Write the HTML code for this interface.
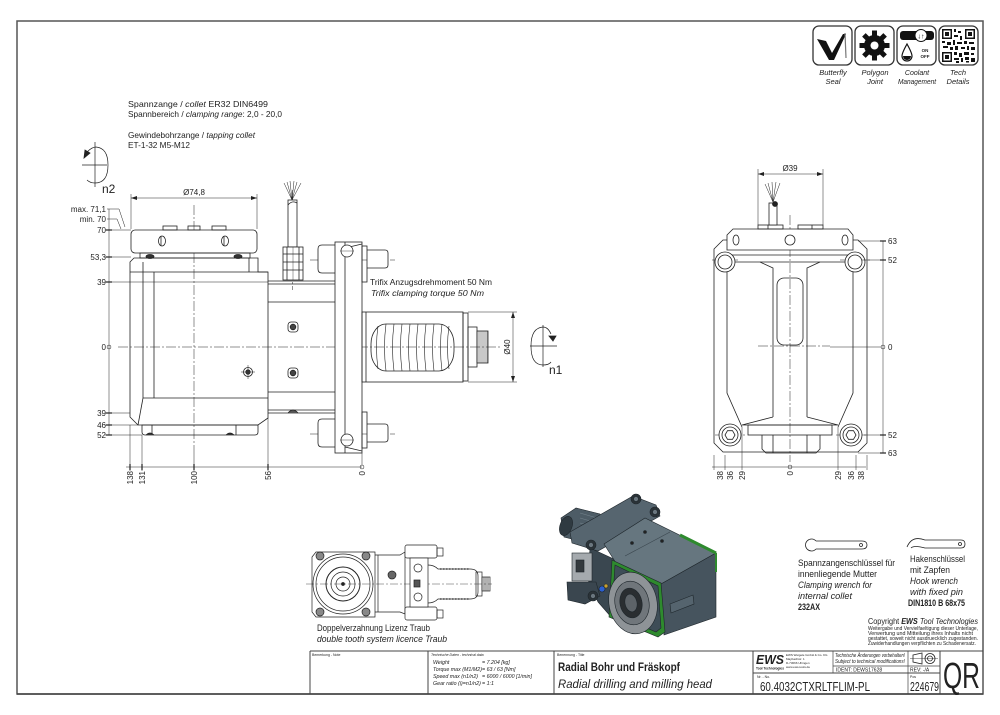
<!DOCTYPE html>
<html><head><meta charset="utf-8">
<style>
html,body{margin:0;padding:0;background:#fff;}
svg{display:block;}
text{font-family:"Liberation Sans","DejaVu Sans",sans-serif;fill:#222;}
.i{font-style:italic}
.b{font-weight:bold}
</style></head><body>
<svg width="1000" height="715" viewBox="0 0 1000 715" xmlns="http://www.w3.org/2000/svg">
<defs>
<marker id="a" markerWidth="6" markerHeight="4" refX="6" refY="2" orient="auto-start-reverse" markerUnits="userSpaceOnUse"><path d="M0,0 L6,2 L0,4 z" fill="#222"/></marker>
</defs>

<!-- frame -->
<rect x="17" y="21" width="966" height="673" fill="none" stroke="#555" stroke-width="1.5"/>

<!-- ============ FRONT VIEW ============ -->
<g fill="none" stroke="#222" stroke-width="0.8">
<g stroke-width="0.5" stroke-dasharray="10 2 2 2">
<line x1="118" y1="347" x2="500" y2="347"/>
<line x1="194" y1="205" x2="194" y2="450"/>
<line x1="292.5" y1="190" x2="292.5" y2="290"/>
<line x1="310" y1="260" x2="395" y2="260"/>
<line x1="310" y1="434" x2="395" y2="434"/>
</g>
<rect x="131" y="230" width="126" height="23" rx="4" fill="#fff"/>
<rect x="163" y="226" width="14" height="4"/>
<rect x="188" y="226" width="12" height="4"/>
<rect x="212" y="226" width="14" height="4"/>
<ellipse cx="162" cy="241" rx="3.5" ry="5"/>
<ellipse cx="225" cy="241" rx="3.5" ry="5"/>
<line x1="161" y1="236" x2="161" y2="246"/>
<line x1="224" y1="236" x2="224" y2="246"/>
<rect x="140" y="253" width="110" height="5"/>
<ellipse cx="150" cy="256.5" rx="4" ry="2" fill="#333"/>
<ellipse cx="238" cy="256.5" rx="4" ry="2" fill="#333"/>
<path d="M134,258 L258,258 L258,272 L268,272 L268,418 L258,425 L138,425 L130,417 L130,262 Z"/>
<line x1="130" y1="272" x2="268" y2="272"/>
<line x1="143" y1="262" x2="143" y2="398"/>
<line x1="154" y1="272" x2="154" y2="398"/>
<line x1="143" y1="398" x2="268" y2="398"/>
<line x1="143" y1="398" x2="138" y2="425"/>
<line x1="249" y1="258" x2="249" y2="272"/>
<path d="M142,425 L258,425 L258,432 Q258,435 255,435 L145,435 Q142,435 142,432 Z"/>
<line x1="152" y1="425" x2="152" y2="435"/>
<line x1="236" y1="425" x2="236" y2="435"/>
<path d="M146,435 Q150,431 154,435" fill="#333"/>
<path d="M226,435 Q230,431 234,435" fill="#333"/>
<line x1="268" y1="281" x2="335" y2="281"/>
<line x1="268" y1="284" x2="335" y2="284"/>
<line x1="268" y1="302" x2="335" y2="302"/>
<line x1="268" y1="392" x2="335" y2="392"/>
<line x1="268" y1="410" x2="335" y2="410"/>
<line x1="268" y1="413" x2="335" y2="413"/>
<path d="M288,413 Q293,407 298,413" fill="#555"/>
<rect x="288" y="322" width="10" height="10" rx="3"/><circle cx="293" cy="327" r="2.8" fill="#444"/>
<rect x="288" y="368" width="10" height="10" rx="3"/><circle cx="293" cy="373" r="2.8" fill="#444"/>
<circle cx="248" cy="372" r="4.5"/><circle cx="248" cy="372" r="2.2" fill="#444"/>
<line x1="241" y1="372" x2="255" y2="372" stroke-width="0.5"/>
<line x1="248" y1="365" x2="248" y2="379" stroke-width="0.5"/>
<rect x="288" y="200" width="9" height="47" fill="#fff"/>
<path d="M288,205 Q292,200 297,203"/>
<g stroke-width="0.5">
<line x1="292" y1="200" x2="284" y2="183"/><line x1="292" y1="200" x2="287" y2="182"/>
<line x1="292" y1="200" x2="290" y2="181"/><line x1="292" y1="200" x2="294" y2="181"/>
<line x1="292" y1="200" x2="297" y2="182"/><line x1="292" y1="200" x2="301" y2="183"/>
</g>
<rect x="283" y="247" width="20" height="33" fill="#fff"/>
<line x1="283" y1="254" x2="303" y2="254"/><line x1="283" y1="262" x2="303" y2="262"/>
<line x1="283" y1="270" x2="303" y2="270"/>
<line x1="287" y1="247" x2="287" y2="280"/><line x1="299" y1="247" x2="299" y2="280"/>
<line x1="293" y1="247" x2="293" y2="280" stroke-width="0.4"/>
<path d="M335,245 H322 Q318,245 318,249 V269 Q318,273 322,273 H335" fill="#fff"/>
<path d="M367,250 H385 Q388,250 388,253 V265 Q388,268 385,268 H367" fill="#fff"/>
<path d="M335,419 H322 Q318,419 318,423 V443 Q318,447 322,447 H335" fill="#fff"/>
<path d="M367,424 H385 Q388,424 388,427 V439 Q388,442 385,442 H367" fill="#fff"/>
<rect x="335" y="242" width="27" height="211" fill="#fff"/>
<line x1="345" y1="242" x2="345" y2="453"/>
<line x1="345" y1="248" x2="362" y2="244"/>
<line x1="345" y1="447" x2="362" y2="451"/>
<rect x="362" y="246" width="5" height="36"/>
<rect x="362" y="412" width="5" height="36"/>
<circle cx="347" cy="251" r="6" fill="#fff"/>
<circle cx="347" cy="440" r="6" fill="#fff"/>
<line x1="340" y1="251" x2="354" y2="251" stroke-width="0.4"/>
<line x1="340" y1="440" x2="354" y2="440" stroke-width="0.4"/>
<rect x="362" y="312" width="101" height="70"/>
<line x1="366" y1="312" x2="366" y2="382"/>
<rect x="463" y="313" width="5" height="68"/>
<rect x="468" y="327" width="9" height="40"/>
<rect x="477" y="331" width="11" height="32"/>
<g stroke-width="0.5">
<line x1="479" y1="331" x2="479" y2="363"/><line x1="481" y1="331" x2="481" y2="363"/>
<line x1="483" y1="331" x2="483" y2="363"/><line x1="485" y1="331" x2="485" y2="363"/>
<line x1="487" y1="331" x2="487" y2="363"/>
</g>
<rect x="371" y="324" width="83" height="47" rx="15" ry="20"/>
<g stroke-width="0.6">
<path d="M378,326 Q375,347 378,369"/>
<path d="M386,324 Q383,347 386,371"/><path d="M394,324 Q391,347 394,371"/>
<path d="M402,324 Q399,347 402,371"/><path d="M410,324 Q407,347 410,371"/>
<path d="M418,324 Q415,347 418,371"/><path d="M426,324 Q423,347 426,371"/>
<path d="M434,324 Q431,347 434,371"/><path d="M442,324 Q439,347 442,371"/>
<path d="M449,326 Q446,347 449,369"/>
</g>
<g stroke-width="0.5">
<line x1="131" y1="198" x2="257" y2="198" marker-start="url(#a)" marker-end="url(#a)"/>
<line x1="131" y1="194" x2="131" y2="229"/>
<line x1="257" y1="194" x2="257" y2="229"/>
<line x1="109" y1="209" x2="109" y2="435"/>
<polyline points="107,209 119,209 125,227"/>
<polyline points="107,219 117,219 121,229"/>
<line x1="105" y1="230" x2="131" y2="230"/>
<line x1="105" y1="257" x2="131" y2="257"/>
<line x1="105" y1="282" x2="268" y2="282"/>
<line x1="105" y1="413" x2="130" y2="413"/>
<line x1="105" y1="425" x2="138" y2="425"/>
<line x1="105" y1="435" x2="142" y2="435"/>
<line x1="106" y1="230" x2="112" y2="230" stroke-width="1.2"/>
<line x1="106" y1="257" x2="112" y2="257" stroke-width="1.2"/>
<line x1="106" y1="282" x2="112" y2="282" stroke-width="1.2"/>
<line x1="106" y1="413" x2="112" y2="413" stroke-width="1.2"/>
<line x1="106" y1="425" x2="112" y2="425" stroke-width="1.2"/>
<line x1="106" y1="435" x2="112" y2="435" stroke-width="1.2"/>
<circle cx="109" cy="347" r="2"/>
<line x1="126" y1="467" x2="362" y2="467"/>
<line x1="130" y1="425" x2="130" y2="471"/>
<line x1="142" y1="435" x2="142" y2="471"/>
<line x1="194" y1="450" x2="194" y2="471"/>
<line x1="268" y1="418" x2="268" y2="471"/>
<line x1="362" y1="453" x2="362" y2="465"/>
<circle cx="362" cy="467" r="2"/>
<line x1="130" y1="464" x2="130" y2="470" stroke-width="1.2"/>
<line x1="142" y1="464" x2="142" y2="470" stroke-width="1.2"/>
<line x1="194" y1="464" x2="194" y2="470" stroke-width="1.2"/>
<line x1="268" y1="464" x2="268" y2="470" stroke-width="1.2"/>
<line x1="513" y1="312" x2="513" y2="382" marker-start="url(#a)" marker-end="url(#a)"/>
<line x1="468" y1="312" x2="517" y2="312"/>
<line x1="468" y1="382" x2="517" y2="382"/>
</g>
<g stroke-width="0.7">
<line x1="95" y1="142" x2="95" y2="187"/>
<line x1="82" y1="165" x2="107" y2="165"/>
<path d="M87,152 Q92,147 96,147 Q108,148 108,165 Q108,183 95,183 Q90,183 87,180"/>
</g>
<path d="M84,158 L85,150 L90,153 Z" fill="#222"/>
<g stroke-width="0.7">
<line x1="530" y1="346" x2="557" y2="346"/>
<line x1="543" y1="325" x2="543" y2="367"/>
<path d="M551,334 Q548,327 543,327 Q531,328 531,346 Q531,365 543,365 Q549,365 551,362"/>
</g>
<path d="M549,336 L556,336 L553,341 Z" fill="#222"/>
</g>

<g font-size="8.5">
<text x="128" y="107" textLength="140" lengthAdjust="spacingAndGlyphs">Spannzange / <tspan class="i">collet</tspan>   ER32   DIN6499</text>
<text x="128" y="117" textLength="154" lengthAdjust="spacingAndGlyphs">Spannbereich / <tspan class="i">clamping range</tspan>: 2,0 - 20,0</text>
<text x="128" y="138" textLength="127" lengthAdjust="spacingAndGlyphs">Gewindebohrzange / <tspan class="i">tapping collet</tspan></text>
<text x="128" y="148" textLength="62" lengthAdjust="spacingAndGlyphs">ET-1-32  M5-M12</text>
<text x="370" y="285" textLength="122" lengthAdjust="spacingAndGlyphs">Trifix Anzugsdrehmoment  50 Nm</text>
<text x="371" y="296" class="i" textLength="113" lengthAdjust="spacingAndGlyphs">Trifix clamping torque  50 Nm</text>
</g>
<text x="102" y="193" font-size="12">n2</text>
<text x="549" y="374" font-size="12">n1</text>
<g font-size="8">
<text x="194" y="195" text-anchor="middle">Ø74,8</text>
<text x="510" y="347" text-anchor="middle" transform="rotate(-90 510 347)">Ø40</text>
<text x="106" y="212" text-anchor="end">max. 71,1</text>
<text x="106" y="222" text-anchor="end">min. 70</text>
<text x="106" y="233" text-anchor="end">70</text>
<text x="106" y="260" text-anchor="end">53,3</text>
<text x="106" y="285" text-anchor="end">39</text>
<text x="106" y="350" text-anchor="end">0</text>
<text x="106" y="416" text-anchor="end">39</text>
<text x="106" y="428" text-anchor="end">46</text>
<text x="106" y="438" text-anchor="end">52</text>
<text x="133" y="471" text-anchor="end" transform="rotate(-90 133 471)">138</text>
<text x="145" y="471" text-anchor="end" transform="rotate(-90 145 471)">131</text>
<text x="197" y="471" text-anchor="end" transform="rotate(-90 197 471)">100</text>
<text x="271" y="471" text-anchor="end" transform="rotate(-90 271 471)">56</text>
<text x="365" y="471" text-anchor="end" transform="rotate(-90 365 471)">0</text>
</g>

<!-- ============ SIDE VIEW ============ -->
<g fill="none" stroke="#222" stroke-width="0.8">
<g stroke-width="0.5" stroke-dasharray="10 2 2 2">
<line x1="790" y1="215" x2="790" y2="462"/>
<line x1="758" y1="346" x2="830" y2="346"/>
<line x1="712" y1="260" x2="740" y2="260"/><line x1="840" y1="260" x2="870" y2="260"/>
<line x1="715" y1="435" x2="745" y2="435"/><line x1="836" y1="435" x2="866" y2="435"/>
</g>
<path d="M723,240 H858 L867,249 V443 L858,452 H723 L714,443 V249 Z"/>
<path d="M727,255 V393 L742,427"/>
<path d="M853,255 V393 L838,427"/>
<line x1="727" y1="255" x2="853" y2="255"/>
<line x1="727" y1="262" x2="853" y2="262"/>
<path d="M760,262 L773,268 V417"/>
<path d="M820,262 L807,268 V417"/>
<rect x="777" y="278" width="26" height="67" rx="7"/>
<path d="M773,417 L742,425 H838 L807,417"/>
<rect x="748" y="425" width="84" height="10"/>
<path d="M762,435 V449 L766,453 H816 L820,449 V435"/>
<line x1="773" y1="435" x2="773" y2="453"/>
<line x1="807" y1="435" x2="807" y2="453"/>
<circle cx="725" cy="262" r="10" fill="#fff"/><circle cx="725" cy="262" r="7"/>
<circle cx="855" cy="262" r="10" fill="#fff"/><circle cx="855" cy="262" r="7"/>
<circle cx="730" cy="435" r="11" fill="#fff"/><circle cx="730" cy="435" r="8"/>
<polygon points="735,435 732.5,439.3 727.5,439.3 725,435 727.5,430.7 732.5,430.7"/>
<circle cx="851" cy="435" r="11" fill="#fff"/><circle cx="851" cy="435" r="8"/>
<polygon points="856,435 853.5,439.3 848.5,439.3 846,435 848.5,430.7 853.5,430.7"/>
<path d="M727,250 L727,235 L733,229 L848,229 L853,235 L853,250 Z" fill="#fff"/>
<rect x="758" y="225" width="25" height="4"/>
<rect x="798" y="225" width="25" height="4"/>
<line x1="768" y1="225" x2="768" y2="229"/><line x1="812" y1="225" x2="812" y2="229"/>
<ellipse cx="736" cy="240" rx="3" ry="5"/>
<ellipse cx="845" cy="240" rx="3" ry="5"/>
<circle cx="790" cy="240" r="5"/>
<rect x="769" y="203" width="8" height="22" fill="#fff"/>
<circle cx="775" cy="204" r="2.5" fill="#222"/>
<g stroke-width="0.5">
<line x1="773" y1="202" x2="765" y2="184"/><line x1="773" y1="202" x2="768" y2="183"/>
<line x1="773" y1="202" x2="772" y2="182"/><line x1="773" y1="202" x2="776" y2="182"/>
<line x1="773" y1="202" x2="780" y2="183"/>
</g>
<g stroke-width="0.5">
<line x1="758" y1="174" x2="823" y2="174" marker-start="url(#a)" marker-end="url(#a)"/>
<line x1="758" y1="169" x2="758" y2="225"/>
<line x1="823" y1="169" x2="823" y2="225"/>
<line x1="883" y1="241" x2="883" y2="453"/>
<line x1="858" y1="241" x2="886" y2="241"/>
<line x1="862" y1="260" x2="886" y2="260"/>
<line x1="830" y1="347" x2="881" y2="347"/>
<circle cx="883" cy="347" r="2"/>
<line x1="862" y1="435" x2="886" y2="435"/>
<line x1="858" y1="453" x2="886" y2="453"/>
<line x1="880" y1="241" x2="886" y2="241" stroke-width="1.2"/>
<line x1="880" y1="260" x2="886" y2="260" stroke-width="1.2"/>
<line x1="880" y1="435" x2="886" y2="435" stroke-width="1.2"/>
<line x1="880" y1="453" x2="886" y2="453" stroke-width="1.2"/>
<line x1="712" y1="467" x2="866" y2="467"/>
<line x1="714" y1="455" x2="714" y2="470"/>
<line x1="725" y1="455" x2="725" y2="470"/>
<line x1="742" y1="427" x2="742" y2="470"/>
<line x1="838" y1="427" x2="838" y2="470"/>
<line x1="856" y1="455" x2="856" y2="470"/>
<line x1="867" y1="455" x2="867" y2="470"/>
<circle cx="790" cy="467" r="2"/>
</g>
</g>
<g font-size="8">
<text x="790" y="171" text-anchor="middle">Ø39</text>
<text x="888" y="244">63</text>
<text x="888" y="263">52</text>
<text x="888" y="350">0</text>
<text x="888" y="438">52</text>
<text x="888" y="456">63</text>
<text x="723" y="471" text-anchor="end" transform="rotate(-90 723 471)">38</text>
<text x="733" y="471" text-anchor="end" transform="rotate(-90 733 471)">36</text>
<text x="745" y="471" text-anchor="end" transform="rotate(-90 745 471)">29</text>
<text x="793" y="471" text-anchor="end" transform="rotate(-90 793 471)">0</text>
<text x="841" y="471" text-anchor="end" transform="rotate(-90 841 471)">29</text>
<text x="854" y="471" text-anchor="end" transform="rotate(-90 854 471)">36</text>
<text x="864" y="471" text-anchor="end" transform="rotate(-90 864 471)">38</text>
</g>

<!-- ============ SMALL BOTTOM DRAWING ============ -->
<g fill="none" stroke="#222" stroke-width="0.7">
<line x1="306" y1="584" x2="492" y2="584" stroke-width="0.4" stroke-dasharray="8 2 2 2"/>
<path d="M316,552 H375 V617 H316 L312,612 V557 Z"/>
<circle cx="343" cy="584" r="30"/>
<circle cx="343" cy="584" r="27"/>
<circle cx="343" cy="584" r="17" stroke-width="1"/>
<circle cx="343" cy="584" r="12"/>
<circle cx="343" cy="584" r="7"/>
<circle cx="343" cy="584" r="1.5" fill="#222"/>
<circle cx="320" cy="556" r="4" fill="#888"/>
<circle cx="366" cy="556" r="4" fill="#888"/>
<circle cx="320" cy="612" r="4" fill="#888"/>
<circle cx="366" cy="612" r="4" fill="#888"/>
<path d="M375,555 H400 L405,552 V614 L400,612 H375"/>
<line x1="378" y1="555" x2="378" y2="612"/>
<circle cx="392" cy="575" r="4" fill="#666"/>
<rect x="405" y="545" width="32" height="13" rx="2" fill="#fff"/>
<rect x="437" y="548" width="6" height="8"/>
<rect x="405" y="607" width="32" height="13" rx="2" fill="#fff"/>
<rect x="437" y="610" width="6" height="8"/>
<rect x="410" y="558" width="18" height="49" fill="#fff"/>
<circle cx="418" cy="568" r="4"/>
<circle cx="418" cy="597" r="4"/>
<rect x="414" y="580" width="6" height="7" fill="#555"/>
<path d="M428,565 Q434,565 438,569 H470 Q478,569 478,576 V592 Q478,599 470,599 H438 Q434,603 428,603"/>
<path d="M440,569 H470 M440,599 H470" stroke-dasharray="1.5 1.5" stroke-width="1.2"/>
<rect x="476" y="572" width="6" height="24"/>
<rect x="482" y="577" width="8" height="14"/>
<line x1="484" y1="577" x2="484" y2="591"/><line x1="486" y1="577" x2="486" y2="591"/><line x1="488" y1="577" x2="488" y2="591"/>
</g>
<text x="317" y="631" font-size="9" textLength="113" lengthAdjust="spacingAndGlyphs">Doppelverzahnung Lizenz Traub</text>
<text x="317" y="642" font-size="9" class="i" textLength="130" lengthAdjust="spacingAndGlyphs">double tooth system licence Traub</text>

<!-- ============ 3D RENDER ============ -->
<g stroke="#1e262b" stroke-width="0.6">
<!-- shank cylinder -->
<polygon points="561,518 576,508 600,514 603,534 588,543 564,537" fill="#4d5c66"/>
<ellipse cx="566" cy="526" rx="6" ry="10" transform="rotate(20 566 526)" fill="#2f3a41"/>
<path d="M580,513 L597,518 M580,518 L597,523 M580,523 L597,528" stroke="#74838c"/>
<!-- lower-left connecting body -->
<polygon points="590,548 616,560 612,618 598,602 588,580" fill="#3a4750"/>
<!-- flange bar -->
<polygon points="570,532 633,496 656,505 660,516 598,551 572,543" fill="#56656f"/>
<!-- body top face -->
<polygon points="604,544 645,518 716,553 661,584 616,563" fill="#66767f"/>
<line x1="625" y1="556" x2="670" y2="532" stroke="#3a464e"/>
<!-- right face -->
<polygon points="661,584 716,553 716,617 664,635" fill="#46545e"/>
<polygon points="670,604 693,595 694,604 671,613" fill="#55646e"/>
<!-- green front -->
<polygon points="612,560 661,583 665,632 658,637 609,617" fill="#2e8a2e"/>
<polygon points="615,565 658,586 661,628 656,632 612,613" fill="#3e4d57"/>
<line x1="680" y1="535" x2="716" y2="553" stroke="#2e8a2e" stroke-width="3"/>
<line x1="716" y1="553" x2="716" y2="572" stroke="#2e8a2e" stroke-width="2"/>
<!-- disc -->
<ellipse cx="633" cy="603" rx="24" ry="31" transform="rotate(-12 633 603)" fill="#8e9397"/>
<ellipse cx="632" cy="603" rx="17" ry="22" transform="rotate(-12 632 603)" fill="#70767b"/>
<ellipse cx="631" cy="603" rx="11" ry="15" transform="rotate(-12 631 603)" fill="#2a2e31"/>
<ellipse cx="631" cy="603" rx="6" ry="9" transform="rotate(-12 631 603)" fill="#5d6368"/>
<!-- side mechanisms -->
<rect x="572" y="553" width="20" height="28" fill="#a5aaae"/>
<rect x="576" y="560" width="8" height="12" fill="#33393d"/>
<polygon points="567,582 596,582 600,596 585,604 568,600" fill="#3a464f"/>
<circle cx="602" cy="589" r="3" fill="#2a5fd0"/>
<circle cx="606" cy="586" r="2" fill="#c8a030"/>
<!-- bolts -->
<circle cx="636" cy="499" r="5" fill="#2b3338"/><circle cx="636" cy="499" r="2.5" fill="#6a767e"/>
<circle cx="655" cy="512" r="5" fill="#2b3338"/><circle cx="655" cy="512" r="2.5" fill="#6a767e"/>
<circle cx="591" cy="545" r="5" fill="#2b3338"/><circle cx="591" cy="545" r="2.5" fill="#6a767e"/>
<circle cx="593" cy="596" r="5" fill="#2b3338"/><circle cx="593" cy="596" r="2.5" fill="#6a767e"/>
<circle cx="645" cy="532" r="1.5" fill="#222"/>
<circle cx="662" cy="541" r="1.5" fill="#222"/>
<circle cx="632" cy="543" r="1.5" fill="#222"/>
</g>

<!-- ============ WRENCHES ============ -->
<g fill="none" stroke="#222" stroke-width="0.8">
<path d="M816,541 A6,6 0 1 0 816,549"/>
<path d="M816,541 H862 Q867,541 867,545 Q867,549 862,549 H816"/>
<circle cx="861" cy="545" r="1.5"/>
<path d="M907,547 Q912,535 925,540 H961 Q965,540 965,544 Q965,548 961,548 H925 Q914,545 911,548"/>
<circle cx="960" cy="544" r="1.5"/>
</g>
<g font-size="9">
<text x="798" y="566" textLength="97" lengthAdjust="spacingAndGlyphs">Spannzangenschlüssel für</text>
<text x="798" y="577" textLength="79" lengthAdjust="spacingAndGlyphs">innenliegende Mutter</text>
<text x="798" y="588" class="i" textLength="74" lengthAdjust="spacingAndGlyphs">Clamping wrench for</text>
<text x="798" y="599" class="i" textLength="54" lengthAdjust="spacingAndGlyphs">internal collet</text>
<text x="798" y="610" class="b" textLength="22" lengthAdjust="spacingAndGlyphs">232AX</text>
<text x="910" y="562" textLength="55" lengthAdjust="spacingAndGlyphs">Hakenschlüssel</text>
<text x="910" y="573" textLength="40" lengthAdjust="spacingAndGlyphs">mit Zapfen</text>
<text x="910" y="584" class="i" textLength="48" lengthAdjust="spacingAndGlyphs">Hook wrench</text>
<text x="910" y="595" class="i" textLength="53" lengthAdjust="spacingAndGlyphs">with fixed pin</text>
<text x="908" y="606" class="b" textLength="57" lengthAdjust="spacingAndGlyphs">DIN1810 B 68x75</text>
</g>
<text x="868" y="624" font-size="8" textLength="110" lengthAdjust="spacingAndGlyphs">Copyright <tspan class="b i">EWS</tspan> <tspan class="i">Tool Technologies</tspan></text>
<g font-size="5">
<text x="868" y="630" textLength="110" lengthAdjust="spacingAndGlyphs">Weitergabe und Vervielfaeltigung dieser Unterlage,</text>
<text x="868" y="635" textLength="105" lengthAdjust="spacingAndGlyphs">Verwertung und Mitteilung ihres Inhalts nicht</text>
<text x="868" y="640" textLength="110" lengthAdjust="spacingAndGlyphs">gestattet, soweit nicht ausdruecklich zugestanden.</text>
<text x="868" y="645" textLength="108" lengthAdjust="spacingAndGlyphs">Zuwiderhandlungen verpflichten zu Schadenersatz.</text>
</g>

<!-- ============ ICONS ============ -->
<g fill="none" stroke="#333" stroke-width="1.3">
<rect x="813" y="26" width="39" height="39" rx="6"/>
<rect x="855" y="26" width="39" height="39" rx="6"/>
<rect x="897" y="26" width="39" height="39" rx="6"/>
<rect x="939" y="26" width="39" height="39" rx="6"/>
</g>
<polygon points="817,39 826,41 832,53 843,34 846,34 834,60 829,60" fill="#111"/>
<line x1="845" y1="33" x2="846" y2="58" stroke="#777" stroke-width="1.2"/>
<g fill="#111" transform="translate(874.5 45.5)">
<circle r="10.5"/>
<rect x="-2.5" y="-15" width="5" height="30"/>
<rect x="-2.5" y="-15" width="5" height="30" transform="rotate(45)"/>
<rect x="-2.5" y="-15" width="5" height="30" transform="rotate(90)"/>
<rect x="-2.5" y="-15" width="5" height="30" transform="rotate(135)"/>
<circle r="4" fill="#fff"/>
</g>
<rect x="900" y="31" width="34" height="9" rx="3" fill="#111"/>
<circle cx="921" cy="35.5" r="6" fill="#fff" stroke="#111" stroke-width="1"/>
<text x="921" y="38.5" font-size="7" text-anchor="middle" font-weight="bold">↓↑</text>
<path d="M907,44 Q902,53 902,56 A5,5 0 0 0 912,56 Q912,53 907,44 Z" fill="none" stroke="#111" stroke-width="1.2"/>
<path d="M903,56 A4,4 0 0 0 911,56 Z" fill="#111"/>
<text x="925" y="52" font-size="4.5" font-weight="bold" text-anchor="middle">ON</text>
<text x="925" y="58" font-size="4.5" font-weight="bold" text-anchor="middle">OFF</text>
<g fill="#111">
<rect x="942" y="29" width="10" height="10"/><rect x="943.5" y="30.5" width="7" height="7" fill="#fff"/><rect x="945" y="32" width="4" height="4"/>
<rect x="965" y="29" width="10" height="10"/><rect x="966.5" y="30.5" width="7" height="7" fill="#fff"/><rect x="968" y="32" width="4" height="4"/>
<rect x="942" y="52" width="10" height="10"/><rect x="943.5" y="53.5" width="7" height="7" fill="#fff"/><rect x="945" y="55" width="4" height="4"/>
<rect x="954" y="29" width="2" height="3"/><rect x="958" y="31" width="3" height="2"/><rect x="954" y="35" width="4" height="2"/><rect x="960" y="36" width="2" height="4"/>
<rect x="942" y="41" width="3" height="2"/><rect x="947" y="42" width="4" height="3"/><rect x="953" y="40" width="2" height="5"/><rect x="957" y="42" width="5" height="2"/>
<rect x="964" y="41" width="3" height="3"/><rect x="969" y="42" width="5" height="2"/><rect x="943" y="46" width="5" height="2"/><rect x="950" y="47" width="3" height="3"/>
<rect x="955" y="46" width="3" height="4"/><rect x="961" y="47" width="4" height="2"/><rect x="967" y="46" width="2" height="4"/><rect x="971" y="47" width="4" height="3"/>
<rect x="954" y="52" width="3" height="3"/><rect x="959" y="53" width="3" height="4"/><rect x="964" y="52" width="5" height="3"/><rect x="971" y="53" width="3" height="2"/>
<rect x="954" y="58" width="5" height="2"/><rect x="961" y="58" width="2" height="4"/><rect x="965" y="57" width="4" height="3"/><rect x="971" y="58" width="4" height="4"/>
<rect x="956" y="61" width="3" height="2"/><rect x="966" y="61" width="3" height="1.5"/>
</g>
<g font-size="7.5" text-anchor="middle">
<text x="833" y="75" class="i">Butterfly</text>
<text x="833" y="84" class="i">Seal</text>
<text x="875" y="75" class="i">Polygon</text>
<text x="875" y="84" class="i">Joint</text>
<text x="917" y="75" class="i" font-size="7">Coolant</text>
<text x="917" y="84" class="i" font-size="7" textLength="38" lengthAdjust="spacingAndGlyphs">Management</text>
<text x="958" y="75" class="i">Tech</text>
<text x="958" y="84" class="i">Details</text>
</g>

<!-- ============ TITLE BLOCK ============ -->
<g fill="none" stroke="#444" stroke-width="1">
<line x1="310" y1="651" x2="983" y2="651"/>
<line x1="310" y1="651" x2="310" y2="694"/>
<line x1="428" y1="651" x2="428" y2="694"/>
<line x1="554" y1="651" x2="554" y2="694"/>
<line x1="753" y1="651" x2="753" y2="694"/>
<line x1="940" y1="651" x2="940" y2="694"/>
<line x1="753" y1="673" x2="940" y2="673"/>
<line x1="833" y1="651" x2="833" y2="673" stroke-width="0.7"/>
<line x1="908" y1="651" x2="908" y2="694" stroke-width="0.7"/>
<line x1="833" y1="666" x2="940" y2="666" stroke-width="0.7"/>
<line x1="17" y1="694" x2="983" y2="694" stroke-width="1.5"/>
</g>
<g fill="none" stroke="#222" stroke-width="0.8">
<path d="M913,655 L922,653 V664 L913,662 Z"/>
<circle cx="930" cy="658.5" r="5"/>
<circle cx="930" cy="658.5" r="2.5"/>
<line x1="910" y1="658.5" x2="938" y2="658.5" stroke-width="0.4"/>
</g>
<g font-size="3.5">
<text x="312" y="656">Bemerkung - Note</text>
<text x="431" y="656" class="i">Technische Daten - technical data</text>
<text x="557" y="656">Benennung - Title</text>
<text x="757" y="678">Nr. - No.</text>
<text x="910" y="678">Pos</text>
</g>
<g font-size="5.3" class="i">
<text x="433" y="664">Weight</text><text x="482" y="664">=  7.204  [kg]</text>
<text x="433" y="671">Torque max  (M1/M2)</text><text x="482" y="671">=  63 / 63  [Nm]</text>
<text x="433" y="678">Speed max  (n1/n2)</text><text x="482" y="678">=  6000 / 6000  [1/min]</text>
<text x="433" y="685">Gear ratio  (i)=n1/n2)</text><text x="482" y="685">=  1:1</text>
</g>
<text x="558" y="671" font-size="11.5" font-weight="bold" textLength="122" lengthAdjust="spacingAndGlyphs">Radial Bohr und Fräskopf</text>
<text x="558" y="688" font-size="11.5" class="i" textLength="154" lengthAdjust="spacingAndGlyphs">Radial drilling and milling head</text>
<text x="756" y="664" font-size="13" font-weight="900" font-style="italic" textLength="28" lengthAdjust="spacingAndGlyphs">EWS</text>
<text x="756" y="669.5" font-size="4" font-weight="bold" textLength="28" lengthAdjust="spacingAndGlyphs">Tool Technologies</text>
<g font-size="3">
<text x="786" y="656">EWS Weigele GmbH &amp; Co. KG</text>
<text x="786" y="660">Maybachstr. 1</text>
<text x="786" y="664">D-73066 Uhingen</text>
<text x="786" y="668">www.ews-tools.de</text>
</g>
<text x="835" y="657" font-size="5.3" class="i" textLength="70" lengthAdjust="spacingAndGlyphs">Technische Änderungen vorbehalten!</text>
<text x="835" y="663" font-size="5.3" class="i" textLength="70" lengthAdjust="spacingAndGlyphs">Subject to technical modifications!</text>
<text x="836" y="671.5" font-size="5">IDENT:  DEWS17628</text>
<text x="910" y="671.5" font-size="5">REV:  -/A</text>
<text x="760" y="691" font-size="12.5" textLength="110" lengthAdjust="spacingAndGlyphs">60.4032CTXRLTFLIM-PL</text>
<text x="910" y="691" font-size="12.5" textLength="29" lengthAdjust="spacingAndGlyphs">224679</text>
<text x="943" y="688" font-size="36" textLength="37" lengthAdjust="spacingAndGlyphs">QR</text>
</svg>
</body></html>
